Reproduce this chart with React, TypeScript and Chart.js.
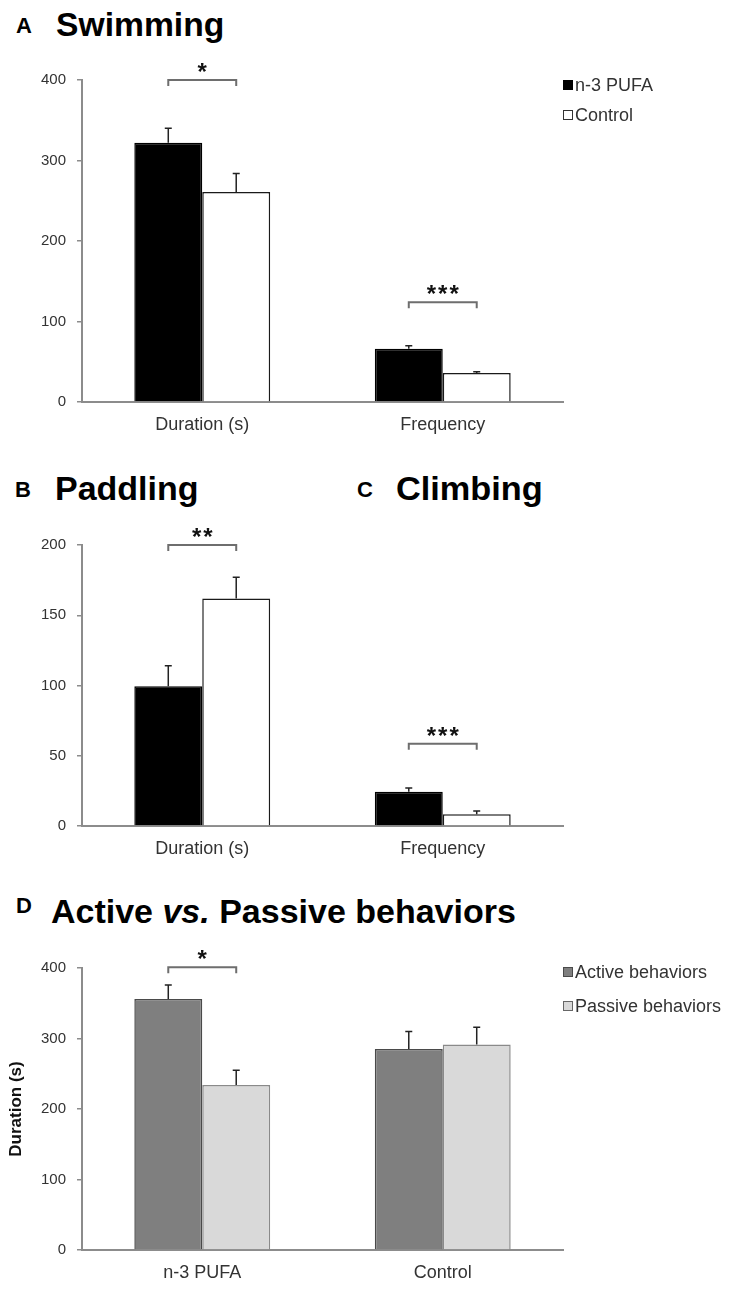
import React, { useEffect, useRef } from "react";
import { Chart, registerables } from "chart.js";
Chart.register(...registerables);

const FONT = "'Liberation Sans', Arial, Helvetica, sans-serif";

// ---------- Panel A : Swimming ----------
const swimCategories = ["Duration (s)", "Frequency"];
const swimN3 = [322, 66];
const swimN3Err = [18, 4];
const swimControl = [261, 36];
const swimControlErr = [23, 1.5];
const swimMax = 400;
const swimStep = 100;
const swimSig = ["*", "***"];
const swimSigLevel = [400, 124];

// ---------- Panel B/C : Paddling / Climbing ----------
const padCategories = ["Duration (s)", "Frequency"];
const padN3 = [99.5, 24.3];
const padN3Err = [14.5, 2.7];
const padControl = [162, 8.3];
const padControlErr = [15, 2.3];
const padMax = 200;
const padStep = 50;
const padSig = ["**", "***"];
const padSigLevel = [200, 58.5];

// ---------- Panel D : Active vs Passive ----------
const actCategories = ["n-3 PUFA", "Control"];
const actActive = [356, 285];
const actActiveErr = [20, 25];
const actPassive = [234, 291.6];
const actPassiveErr = [21, 24.5];
const actMax = 400;
const actStep = 100;
const actSig = ["*", ""];
const actSigLevel = [401, 0];

const groupNames = ["n-3 PUFA", "Control"];
const behaviorNames = ["Active behaviors", "Passive behaviors"];

const AXIS = "#8c8c8c";
const TICK_TEXT = "#333333";

function makeAnnotPlugin(errs: number[][], sig: string[], sigLevels: number[]) {
  return {
    id: "annot",
    afterDatasetsDraw(chart: any) {
      const ctx = chart.ctx;
      const ys = chart.scales.y;
      ctx.save();
      errs.forEach((arr, di) => {
        const meta = chart.getDatasetMeta(di);
        const vals = chart.data.datasets[di].data as number[];
        meta.data.forEach((el: any, j: number) => {
          const top = ys.getPixelForValue(vals[j] + arr[j]);
          ctx.strokeStyle = "#222";
          ctx.lineWidth = 1.5;
          ctx.beginPath();
          ctx.moveTo(el.x, el.y);
          ctx.lineTo(el.x, top);
          ctx.moveTo(el.x - 3.5, top);
          ctx.lineTo(el.x + 3.5, top);
          ctx.stroke();
        });
      });
      const m0 = chart.getDatasetMeta(0);
      const m1 = chart.getDatasetMeta(1);
      sig.forEach((s, g) => {
        if (!s) return;
        const x1 = m0.data[g].x;
        const x2 = m1.data[g].x;
        const yy = ys.getPixelForValue(sigLevels[g]);
        ctx.strokeStyle = "#6e6e6e";
        ctx.lineWidth = 2;
        ctx.beginPath();
        ctx.moveTo(x1, yy + 6);
        ctx.lineTo(x1, yy);
        ctx.lineTo(x2, yy);
        ctx.lineTo(x2, yy + 6);
        ctx.stroke();
        ctx.fillStyle = "#111";
        ctx.font = `bold 24px ${FONT}`;
        ctx.textAlign = "center";
        ctx.textBaseline = "alphabetic";
        try { (ctx as any).letterSpacing = "2px"; } catch (e) {}
        ctx.fillText(s, (x1 + x2) / 2 + 1, yy + 0);
        try { (ctx as any).letterSpacing = "0px"; } catch (e) {}
      });
      ctx.restore();
    },
  };
}

type PanelProps = {
  top: number;
  height: number;
  xHeight: number;
  categories: string[];
  names: string[];
  values: number[][];
  errors: number[][];
  fills: string[];
  borders: string[];
  max: number;
  step: number;
  sig: string[];
  sigLevels: number[];
  yTitle?: string;
};

function BarPanel(p: PanelProps) {
  const ref = useRef<HTMLCanvasElement>(null);
  useEffect(() => {
    if (!ref.current) return;
    const chart = new Chart(ref.current, {
      type: "bar",
      data: {
        labels: p.categories,
        datasets: p.values.map((v, i) => ({
          label: p.names[i],
          data: v,
          backgroundColor: p.fills[i],
          borderColor: p.borders[i],
          borderWidth: 1.5,
          categoryPercentage: 0.565,
          barPercentage: 1.0,
        })),
      },
      options: {
        responsive: false,
        animation: false,
        layout: { padding: { top: 30, right: 176, left: 0, bottom: 0 } },
        plugins: { legend: { display: false }, tooltip: { enabled: false } },
        scales: {
          x: {
            afterFit: (s: any) => { s.height = p.xHeight; },
            grid: { display: true, drawOnChartArea: false, drawTicks: false },
            border: { display: true, color: AXIS, width: 2 },
            ticks: { padding: 12, color: TICK_TEXT, font: { family: FONT, size: 18 } },
          },
          y: {
            min: 0,
            max: p.max,
            afterFit: (s: any) => { s.width = 82; },
            grid: { display: true, drawOnChartArea: false, drawTicks: true, tickLength: 5, color: AXIS, lineWidth: 1.5 },
            border: { display: true, color: AXIS, width: 2 },
            ticks: { stepSize: p.step, padding: 11, color: TICK_TEXT, font: { family: FONT, size: 15 } },
            title: p.yTitle
              ? { display: true, text: p.yTitle, color: "#111", font: { family: FONT, size: 17, weight: "bold" }, padding: { top: 6, bottom: 0 } }
              : { display: false },
          },
        },
      } as any,
      plugins: [makeAnnotPlugin(p.errors, p.sig, p.sigLevels)],
    });
    return () => chart.destroy();
  }, []);
  return (
    <canvas
      ref={ref}
      width={739}
      height={p.height}
      style={{ position: "absolute", left: 0, top: p.top, width: 739, height: p.height }}
    />
  );
}

function LegendRow(props: { cy: number; label: string; fill: string; border: string }) {
  return (
    <div style={{ position: "absolute", left: 563, top: props.cy - 9, height: 18, display: "flex", alignItems: "center" }}>
      <div style={{ width: 10, height: 10, boxSizing: "border-box", background: props.fill, border: `1.5px solid ${props.border}`, marginRight: 2 }} />
      <span style={{ fontSize: 18, lineHeight: "18px", color: "#333", whiteSpace: "nowrap" }}>{props.label}</span>
    </div>
  );
}

function Title(props: { left: number; top: number; size: number; sx?: number; children: any }) {
  return (
    <div
      style={{
        position: "absolute",
        left: props.left,
        top: props.top,
        fontSize: props.size,
        lineHeight: 1,
        fontWeight: "bold",
        color: "#000",
        whiteSpace: "nowrap",
        transform: `scaleX(${props.sx ?? 1})`,
        transformOrigin: "0 0",
      }}
    >
      {props.children}
    </div>
  );
}

export default function App() {
  return (
    <div style={{ position: "absolute", left: 0, top: 0, width: 739, height: 1293, overflow: "hidden", background: "#fff", fontFamily: FONT }}>
      <BarPanel
        top={50}
        height={400}
        xHeight={48}
        categories={swimCategories}
        names={groupNames}
        values={[swimN3, swimControl]}
        errors={[swimN3Err, swimControlErr]}
        fills={["#000000", "#ffffff"]}
        borders={["#000000", "#1a1a1a"]}
        max={swimMax}
        step={swimStep}
        sig={swimSig}
        sigLevels={swimSigLevel}
      />
      <BarPanel
        top={515}
        height={359}
        xHeight={48}
        categories={padCategories}
        names={groupNames}
        values={[padN3, padControl]}
        errors={[padN3Err, padControlErr]}
        fills={["#000000", "#ffffff"]}
        borders={["#000000", "#1a1a1a"]}
        max={padMax}
        step={padStep}
        sig={padSig}
        sigLevels={padSigLevel}
      />
      <BarPanel
        top={938}
        height={355}
        xHeight={43}
        categories={actCategories}
        names={behaviorNames}
        values={[actActive, actPassive]}
        errors={[actActiveErr, actPassiveErr]}
        fills={["#7f7f7f", "#d9d9d9"]}
        borders={["#4a4a4a", "#8a8a8a"]}
        max={actMax}
        step={actStep}
        sig={actSig}
        sigLevels={actSigLevel}
        yTitle="Duration (s)"
      />

      <Title left={16} top={14.5} size={22}>A</Title>
      <Title left={56} top={7.6} size={33} sx={1.02}>Swimming</Title>
      <Title left={15} top={478.5} size={22}>B</Title>
      <Title left={55} top={472.1} size={33} sx={1.03}>Paddling</Title>
      <Title left={357} top={478.5} size={22}>C</Title>
      <Title left={396} top={472.1} size={33} sx={1.04}>Climbing</Title>
      <Title left={16} top={894.5} size={22}>D</Title>
      <Title left={51} top={894.6} size={33} sx={1.03}>
        Active <i>vs.</i> Passive behaviors
      </Title>

      <LegendRow cy={85} label={groupNames[0]} fill="#000000" border="#000000" />
      <LegendRow cy={115} label={groupNames[1]} fill="#ffffff" border="#333333" />
      <LegendRow cy={972} label={behaviorNames[0]} fill="#7f7f7f" border="#4a4a4a" />
      <LegendRow cy={1006} label={behaviorNames[1]} fill="#d9d9d9" border="#666666" />
    </div>
  );
}
